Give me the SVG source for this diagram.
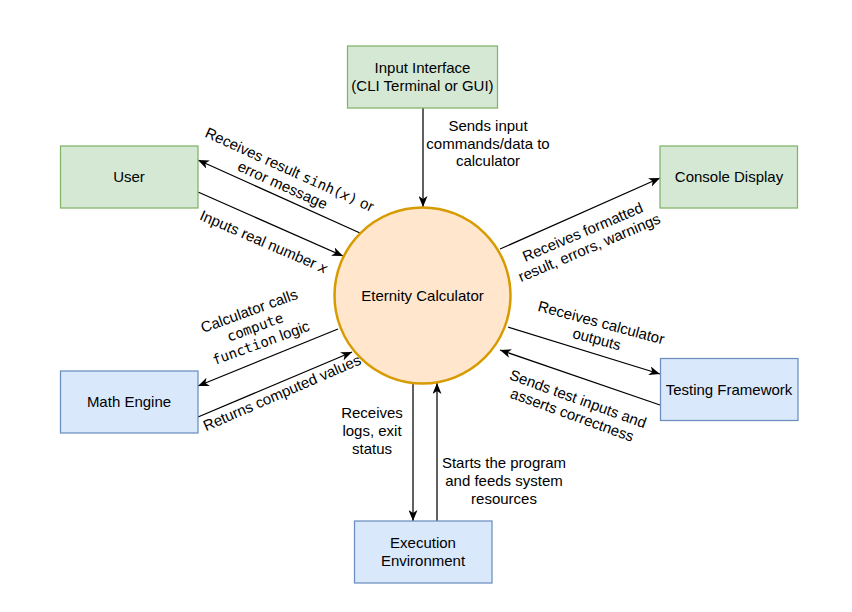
<svg xmlns="http://www.w3.org/2000/svg" width="852" height="612" viewBox="0 0 852 612">
<style>
.t{font-family:"Liberation Sans",Arial,sans-serif;font-size:15px;fill:#000;}
.m{font-family:"DejaVu Sans Mono","Liberation Mono",monospace;font-size:14px;}
.g{fill:#d5e8d4;stroke:#82b366;stroke-width:1.25;}
.b{fill:#dae8fc;stroke:#6c8ebf;stroke-width:1.25;}
.c{fill:#ffe6cc;stroke:#d79b00;stroke-width:2.5;}
.e{fill:none;stroke:#000;stroke-width:1.25;marker-end:url(#arr);}
</style>
<defs>
<marker id="arr" markerUnits="userSpaceOnUse" markerWidth="11" markerHeight="9" refX="11" refY="4.5" orient="auto" viewBox="0 0 11 9">
<path d="M0,0 L11,4.5 L0,9 L3,4.5 z" fill="#000"/>
</marker>
</defs>
<rect width="852" height="612" fill="#fff"/>
<g id="connectors">
<path class="e" d="M423,108 L423,207"/>
<path class="e" d="M360,233 L198,160"/>
<path class="e" d="M198,192 L343,256"/>
<path class="e" d="M500,249 L660,178"/>
<path class="e" d="M338,329 L198,386"/>
<path class="e" d="M198,417 L352,352"/>
<path class="e" d="M508,327 L660,374"/>
<path class="e" d="M660,405 L500,350"/>
<path class="e" d="M413,383 L413,521"/>
<path class="e" d="M437,521 L437,383"/>
<text class="t" text-anchor="middle"><tspan x="488" y="131">Sends input</tspan><tspan x="488" y="149">commands/data to</tspan><tspan x="488" y="166">calculator</tspan></text>
<text class="t" text-anchor="middle" transform="translate(286,177.5) rotate(24.3)"><tspan x="0" y="-3.5">Receives result <tspan class="m">sinh(<tspan font-style="italic">x</tspan>)</tspan> or</tspan><tspan x="0" y="13.5">error message</tspan></text>
<text class="t" text-anchor="middle" transform="translate(264,242) rotate(23.3)"><tspan x="0" y="5">Inputs real number <tspan class="m" font-style="italic">x</tspan></tspan></text>
<text class="t" text-anchor="middle" transform="translate(586,240) rotate(-23)"><tspan x="0" y="-3.5">Receives formatted</tspan><tspan x="0" y="13.5">result, errors, warnings</tspan></text>
<text class="t" text-anchor="middle" transform="translate(255,327) rotate(-20)"><tspan x="0" y="-12">Calculator calls</tspan><tspan x="0" y="5" class="m">compute</tspan><tspan x="0" y="22"><tspan class="m">function</tspan> logic</tspan></text>
<text class="t" text-anchor="middle" transform="translate(282,393) rotate(-23.4)"><tspan x="0" y="5">Returns computed values</tspan></text>
<text class="t" text-anchor="middle" transform="translate(599,331) rotate(15)"><tspan x="0" y="-3.5">Receives calculator</tspan><tspan x="0" y="13.5">outputs</tspan></text>
<text class="t" text-anchor="middle" transform="translate(575,407) rotate(20)"><tspan x="0" y="-3.5">Sends test inputs and</tspan><tspan x="0" y="13.5">asserts correctness</tspan></text>
<text class="t" text-anchor="middle"><tspan x="372" y="418">Receives</tspan><tspan x="372" y="436">logs, exit</tspan><tspan x="372" y="454">status</tspan></text>
<text class="t" text-anchor="middle"><tspan x="504" y="468">Starts the program</tspan><tspan x="504" y="486">and feeds system</tspan><tspan x="504" y="504">resources</tspan></text>
</g>
<g id="input-interface"><rect class="g" x="347.5" y="46" width="150" height="62"/><text class="t" text-anchor="middle"><tspan x="422.5" y="73">Input Interface</tspan><tspan x="422.5" y="91">(CLI Terminal or GUI)</tspan></text></g>
<g id="user"><rect class="g" x="60.5" y="146" width="137.5" height="62"/><text class="t" text-anchor="middle" x="129" y="182">User</text></g>
<g id="console-display"><rect class="g" x="660" y="146" width="137.5" height="62"/><text class="t" text-anchor="middle" x="729" y="182">Console Display</text></g>
<g id="math-engine"><rect class="b" x="60.5" y="371" width="137.5" height="62"/><text class="t" text-anchor="middle" x="129" y="407">Math Engine</text></g>
<g id="testing-framework"><rect class="b" x="660.5" y="358.5" width="137.5" height="62"/><text class="t" text-anchor="middle" x="729" y="395">Testing Framework</text></g>
<g id="execution-environment"><rect class="b" x="354.5" y="521" width="137.5" height="62"/><text class="t" text-anchor="middle"><tspan x="423" y="548">Execution</tspan><tspan x="423" y="566">Environment</tspan></text></g>
<g id="eternity-calculator"><circle class="c" cx="422.5" cy="295.5" r="88"/><text class="t" text-anchor="middle" x="422.5" y="301">Eternity Calculator</text></g>
</svg>
